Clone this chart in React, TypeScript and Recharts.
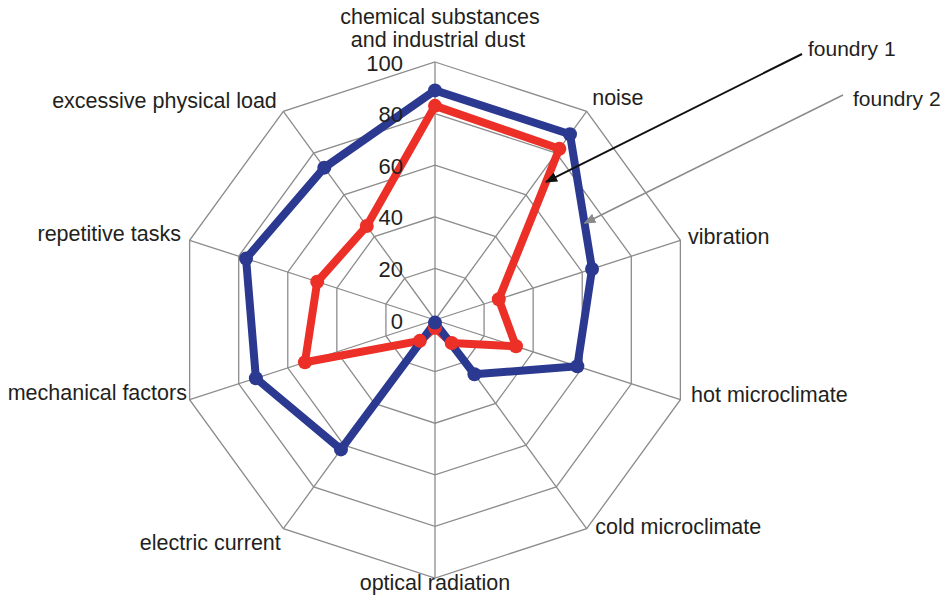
import { RadarChart, Radar, PolarGrid, PolarAngleAxis, PolarRadiusAxis } from "recharts";

const factors = [
  "chemical substances and industrial dust",
  "noise",
  "vibration",
  "hot microclimate",
  "cold microclimate",
  "optical radiation",
  "electric current",
  "mechanical factors",
  "repetitive tasks",
  "excessive physical load",
];
const foundry1 = [83, 82, 26, 33, 11, 3, 10, 53, 48, 45];
const foundry2 = [89, 89, 64, 58, 26, 1, 62, 73, 77, 73];
const radiusTicks = [0, 20, 40, 60, 80, 100];

const W = 951;
const H = 596;
const CX = 435;
const CY = 320;
const R = 258;

const BLUE = "#2b3990";
const RED = "#ec3027";
const TEXT = "#231f20";
const GRID = "#8c8c8c";

// label nudges (dx, dy) per axis, relative to the tick anchor
const labelNudge: [number, number][] = [
  [5, 0], [2, -8], [2, -1], [5, -7], [5, -7],
  [0, -1], [1, 9], [3, -9], [-3, -4], [-3, -5],
];

const data = factors.map((f, i) => ({
  factor: f,
  foundry1: foundry1[i],
  foundry2: foundry2[i],
}));

function polar(i: number, v: number) {
  const a = ((90 - (360 / factors.length) * i) * Math.PI) / 180;
  return [CX + (R * v * Math.cos(a)) / 100, CY - (R * v * Math.sin(a)) / 100];
}

function AngleTick(props: any) {
  const { payload, index } = props;
  const i = typeof index === "number" ? index : factors.indexOf(payload.value);
  const a = ((90 - (360 / factors.length) * i) * Math.PI) / 180;
  const x0 = CX + (R + 6) * Math.cos(a);
  const y0 = CY - (R + 6) * Math.sin(a);
  const c = Math.cos(a);
  const anchor = Math.abs(c) < 0.01 ? "middle" : c > 0 ? "start" : "end";
  const [dx, dy] = labelNudge[i] || [0, 0];
  const text: string = payload.value;
  if (i === 0) {
    const parts = text.split(" and ");
    return (
      <text x={x0 + dx} textAnchor="middle" fill={TEXT} fontSize={21.5}
        fontFamily="'Liberation Sans', Arial, sans-serif">
        <tspan x={x0 + dx} y={17} dominantBaseline="central">{parts[0]}</tspan>
        <tspan x={x0 + dx - 2} y={40} dominantBaseline="central">{"and " + parts[1]}</tspan>
      </text>
    );
  }
  return (
    <text x={x0 + dx} y={y0 + dy} textAnchor={anchor} dominantBaseline="central"
      fill={TEXT} fontSize={21.5} fontFamily="'Liberation Sans', Arial, sans-serif">
      {text}
    </text>
  );
}

function RadiusTick(props: any) {
  const { x, y, payload } = props;
  return (
    <text x={x - 32} y={y + 1} textAnchor="end" dominantBaseline="central"
      fill={TEXT} fontSize={22} fontFamily="'Liberation Sans', Arial, sans-serif">
      {payload.value}
    </text>
  );
}

const makeDot = (color: string) => (p: any) => (
  <circle key={`${color}-${p.index}`} cx={p.cx} cy={p.cy} r={7} fill={color} stroke="none" />
);

function lerp(p: number[], q: number[], t: number) {
  return [p[0] + (q[0] - p[0]) * t, p[1] + (q[1] - p[1]) * t];
}

export default function App() {
  const tip1 = lerp(polar(1, foundry1[1]), polar(2, foundry1[2]), 0.22);
  const tip2 = lerp(polar(1, foundry2[1]), polar(2, foundry2[2]), 0.66);
  const font = "'Liberation Sans', Arial, sans-serif";

  return (
    <div style={{ position: "absolute", left: 0, top: 0, width: W, height: H, background: "#fff" }}>
      <RadarChart
        width={W}
        height={H}
        data={data}
        cx={CX}
        cy={CY}
        outerRadius={R}
        margin={{ top: 0, right: 0, bottom: 0, left: 0 }}
      >
        <PolarGrid gridType="polygon" stroke={GRID} strokeWidth={1.3} />
        <PolarAngleAxis
          dataKey="factor"
          tick={<AngleTick />}
          tickLine={false}
          axisLine={false}
        />
        <PolarRadiusAxis
          angle={90}
          domain={[0, 100]}
          ticks={radiusTicks as any}
          tickCount={6}
          tick={<RadiusTick />}
          axisLine={false}
          tickLine={false}
        />
        <Radar
          name="foundry 1"
          dataKey="foundry1"
          stroke={RED}
          strokeWidth={8}
          strokeLinejoin="round"
          fill="none"
          fillOpacity={0}
          dot={makeDot(RED)}
          isAnimationActive={false}
        />
        <Radar
          name="foundry 2"
          dataKey="foundry2"
          stroke={BLUE}
          strokeWidth={8}
          strokeLinejoin="round"
          fill="none"
          fillOpacity={0}
          dot={makeDot(BLUE)}
          isAnimationActive={false}
        />
      </RadarChart>
      <svg width={W} height={H} style={{ position: "absolute", left: 0, top: 0, pointerEvents: "none" }}>
        <defs>
          <marker id="headBlack" viewBox="0 0 12 10" refX="11" refY="5" markerWidth="12" markerHeight="10"
            markerUnits="userSpaceOnUse" orient="auto">
            <path d="M0,0 L12,5 L0,10 z" fill="#111" />
          </marker>
          <marker id="headGray" viewBox="0 0 12 10" refX="11" refY="5" markerWidth="12" markerHeight="10"
            markerUnits="userSpaceOnUse" orient="auto">
            <path d="M0,0 L12,5 L0,10 z" fill="#8a8a8a" />
          </marker>
        </defs>
        <line x1={802} y1={54} x2={tip1[0]} y2={tip1[1]} stroke="#111" strokeWidth={2} markerEnd="url(#headBlack)" />
        <line x1={843} y1={95} x2={tip2[0]} y2={tip2[1]} stroke="#8a8a8a" strokeWidth={1.6} markerEnd="url(#headGray)" />
        <text x={808} y={48} dominantBaseline="central" fontSize={21} fill={TEXT} fontFamily={font}>foundry 1</text>
        <text x={853} y={98} dominantBaseline="central" fontSize={21} fill={TEXT} fontFamily={font}>foundry 2</text>
      </svg>
    </div>
  );
}
